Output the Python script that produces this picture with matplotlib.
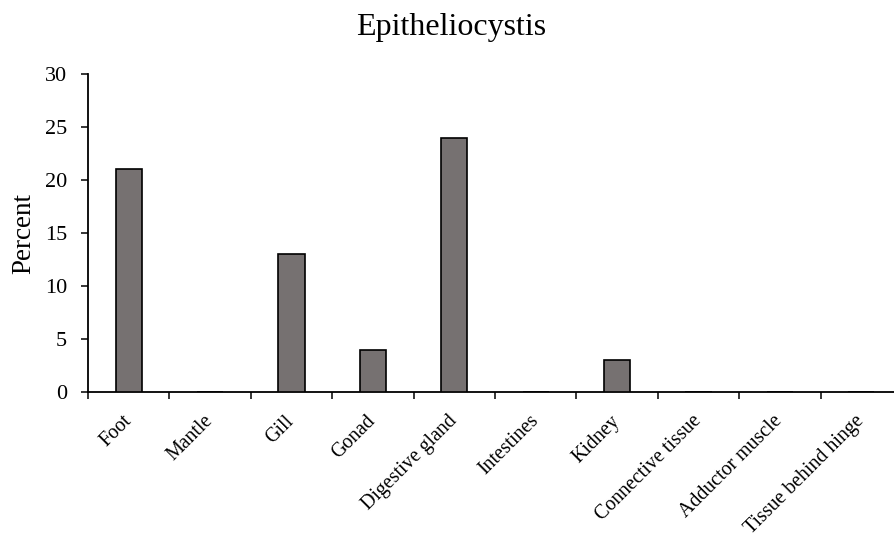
import matplotlib
matplotlib.use("Agg")
import matplotlib.pyplot as plt
import numpy as np

categories = ["Foot", "Mantle", "Gill", "Gonad", "Digestive gland", "Intestines",
              "Kidney", "Connective tissue", "Adductor muscle", "Tissue behind hinge"]
percent = [21, 0, 13, 4, 24, 0, 3, 0, 0, 0]
yticks = [0, 5, 10, 15, 20, 25, 30]

plt.rcParams['font.family'] = ['Liberation Serif', 'DejaVu Serif']

fig = plt.figure(figsize=(8.95, 5.37), dpi=100)
W, H = 895, 537
left, right, bottom, top = 88, 902, 392, 74
ax = fig.add_axes([left / W, (H - bottom) / H, (right - left) / W, (bottom - top) / H])

x = np.arange(len(categories))
ax.bar(x, percent, width=0.32, color="#767171", edgecolor="black", linewidth=1.2, zorder=3)

ax.set_xlim(-0.5, len(categories) - 0.5)
ax.set_ylim(0, 30)
ax.set_yticks(yticks)
ax.tick_params(axis='y', labelsize=16, length=5, width=1.1, direction='out', pad=10)

ax.set_xticks(np.arange(len(categories) + 1) - 0.5)
ax.set_xticklabels([])
ax.tick_params(axis='x', which='major', length=5, width=1.1, direction='out')
ax.set_xticks(x, minor=True)
ax.set_xticklabels(categories, minor=True, rotation=45, ha='right', va='center',
                   rotation_mode='anchor', fontsize=14.3)
ax.tick_params(axis='x', which='minor', length=0, pad=19)

for s in ['top', 'right']:
    ax.spines[s].set_visible(False)
for s in ['left', 'bottom']:
    ax.spines[s].set_linewidth(1.3)

ax.set_ylabel("Percent", fontsize=19.5, labelpad=6)
fig.text(451 / W, 1 - 28 / H, "Epitheliocystis", ha='center', va='center', fontsize=23)

fig.savefig("out.png", dpi=100)
